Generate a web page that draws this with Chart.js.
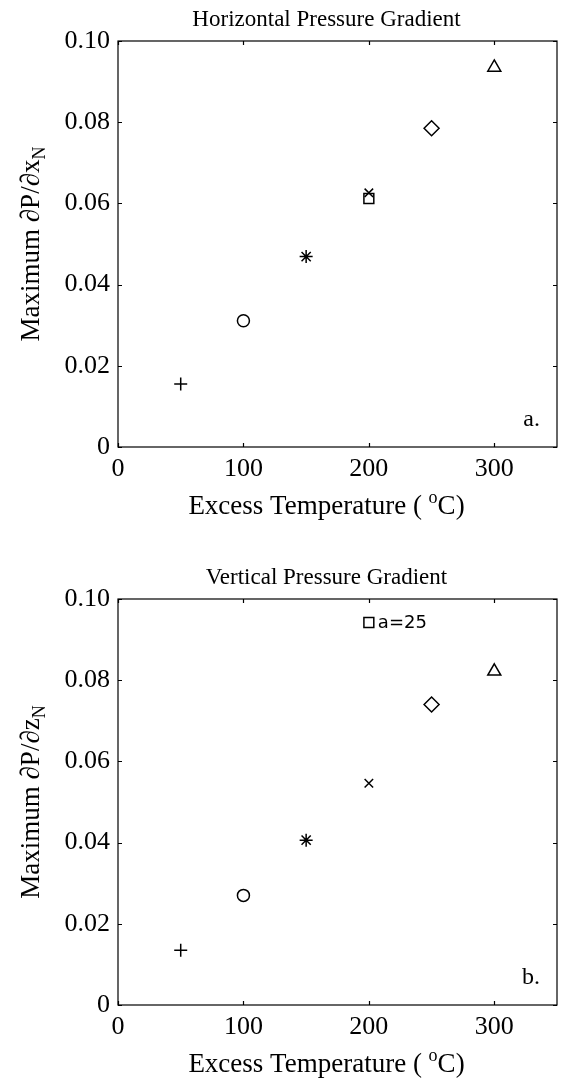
<!DOCTYPE html>
<html>
<head>
<meta charset="utf-8">
<script src="https://cdn.jsdelivr.net/npm/chart.js@4.4.1/dist/chart.umd.min.js"></script>
<style>
  html, body { margin: 0; padding: 0; background: #fff; }
  body { width: 566px; height: 1078px; position: relative; overflow: hidden; }
  canvas { position: absolute; left: 0; }
  #horizontal-chart { top: 0; }
  #vertical-chart { top: 540px; }
</style>
</head>
<body>
<canvas id="horizontal-chart" width="566" height="540"></canvas>
<canvas id="vertical-chart" width="566" height="538"></canvas>
<script>
// Data
const horizTemps = [50, 100, 150, 200, 200, 250, 300];
const horizGradient = [0.0155, 0.0311, 0.0469, 0.0626, 0.0612, 0.0785, 0.0935];
const horizMarkers = ['cross', 'circle', 'star', 'crossRot', 'rect', 'rectRot', 'triangle'];

const vertTemps = [50, 100, 150, 200, 250, 300];
const vertGradient = [0.0135, 0.0270, 0.0406, 0.0546, 0.0740, 0.0822];
const vertMarkers = ['cross', 'circle', 'star', 'crossRot', 'rectRot', 'triangle'];

// square key in the lower panel
const keyTemp = [200];
const keyValue = [0.0942];
const keyLabel = 'a=25';

const xTickStep = 100;
const yTickStep = 0.02;

const SERIF = '"Liberation Serif", "Times New Roman", serif';
const markerSize = { cross: 6.5, circle: 6, star: 6.5, crossRot: 6, rect: 7, rectRot: 7.5, triangle: 7.5 };

// Frame, inward ticks and the texts that need sub/superscripts
const framePlugin = {
  id: 'framePlugin',
  afterDraw(chart, args, opts) {
    const { ctx, chartArea: a, scales: { x, y } } = chart;
    const cx = (a.left + a.right) / 2 - 11;
    ctx.save();
    ctx.strokeStyle = '#000';
    ctx.fillStyle = '#000';
    ctx.lineWidth = 1.2;
    ctx.strokeRect(a.left, a.top, a.right - a.left, a.bottom - a.top);

    ctx.beginPath();
    x.ticks.forEach(t => {
      const px = Math.round(x.getPixelForValue(t.value)) + 0.5;
      ctx.moveTo(px, a.bottom); ctx.lineTo(px, a.bottom - 4);
      ctx.moveTo(px, a.top); ctx.lineTo(px, a.top + 4);
    });
    y.ticks.forEach(t => {
      const py = Math.round(y.getPixelForValue(t.value)) + 0.5;
      ctx.moveTo(a.left, py); ctx.lineTo(a.left + 4, py);
      ctx.moveTo(a.right, py); ctx.lineTo(a.right - 4, py);
    });
    ctx.stroke();

    // panel title
    ctx.font = '23px ' + SERIF;
    ctx.textAlign = 'center';
    ctx.textBaseline = 'middle';
    ctx.fillText(opts.title, cx, a.top - 21);

    // x title with superscript o
    const big = '27px ' + SERIF, small = '18px ' + SERIF;
    const p1 = 'Excess Temperature ( ', p2 = 'o', p3 = 'C)';
    ctx.font = big; const w1 = ctx.measureText(p1).width, w3 = ctx.measureText(p3).width;
    ctx.font = small; const w2 = ctx.measureText(p2).width;
    let sx = cx - (w1 + w2 + w3) / 2;
    const by = a.bottom + 67;
    ctx.textAlign = 'left';
    ctx.textBaseline = 'alphabetic';
    ctx.font = big; ctx.fillText(p1, sx, by); sx += w1;
    ctx.font = small; ctx.fillText(p2, sx, by - 11); sx += w2;
    ctx.font = big; ctx.fillText(p3, sx, by);

    // y title with subscript N
    ctx.save();
    ctx.translate(39, (a.top + a.bottom) / 2);
    ctx.rotate(-Math.PI / 2);
    ctx.font = big; const m1 = ctx.measureText(opts.yTitle).width;
    ctx.font = small; const m2 = ctx.measureText('N').width;
    const start = -(m1 + m2) / 2;
    ctx.font = big; ctx.fillText(opts.yTitle, start, 0);
    ctx.font = small; ctx.fillText('N', start + m1, 6);
    ctx.restore();

    // panel letter
    ctx.font = '24px ' + SERIF;
    ctx.textAlign = 'right';
    ctx.textBaseline = 'middle';
    ctx.fillText(opts.letter, a.right - 17, a.bottom - 27);

    // key text next to the square
    if (opts.keyText) {
      ctx.font = '18px "DejaVu Sans", sans-serif';
      ctx.textAlign = 'left';
      ctx.fillText(opts.keyText, x.getPixelForValue(keyTemp[0]) + 9, y.getPixelForValue(keyValue[0]) + 1);
    }
    ctx.restore();
  }
};

function toPoints(xs, ys) {
  return xs.map((v, i) => ({ x: v, y: ys[i] }));
}

function markerDataset(xs, ys, styles) {
  return {
    data: toPoints(xs, ys),
    showLine: false,
    pointStyle: styles,
    pointRadius: styles.map(s => markerSize[s]),
    pointBorderWidth: 1.5,
    pointBorderColor: '#000',
    pointBackgroundColor: 'rgba(0,0,0,0)'
  };
}

function buildChart(canvasId, datasets, panel) {
  const tickFont = { family: SERIF, size: 26 };
  return new Chart(document.getElementById(canvasId), {
    type: 'scatter',
    data: { datasets },
    options: {
      responsive: false,
      animation: false,
      layout: { padding: { top: panel.top, right: 4, left: 0, bottom: 0 } },
      plugins: {
        legend: { display: false },
        tooltip: { enabled: false },
        framePlugin: panel
      },
      scales: {
        x: {
          type: 'linear',
          min: 0,
          max: 350,
          grid: { display: false, drawTicks: false },
          border: { display: false },
          ticks: { stepSize: xTickStep, includeBounds: false, padding: 7, color: '#000', font: tickFont, maxRotation: 0 },
          afterFit: s => { s.height = panel.xHeight; }
        },
        y: {
          min: 0,
          max: 0.1,
          grid: { display: false, drawTicks: false },
          border: { display: false },
          ticks: {
            stepSize: yTickStep,
            padding: 8,
            color: '#000',
            font: tickFont,
            callback: v => (Math.abs(v) < 1e-9 ? '0' : v.toFixed(2))
          },
          afterFit: s => { s.width = 118; }
        }
      }
    },
    plugins: [framePlugin]
  });
}

buildChart('horizontal-chart', [markerDataset(horizTemps, horizGradient, horizMarkers)], {
  top: 41, xHeight: 93,
  title: 'Horizontal Pressure Gradient',
  yTitle: 'Maximum \u2202P/\u2202x',
  letter: 'a.'
});

buildChart('vertical-chart', [
  markerDataset(vertTemps, vertGradient, vertMarkers),
  markerDataset(keyTemp, keyValue, ['rect'])
], {
  top: 59, xHeight: 73,
  title: 'Vertical Pressure Gradient',
  yTitle: 'Maximum \u2202P/\u2202z',
  letter: 'b.',
  keyText: keyLabel
});
</script>
</body>
</html>
